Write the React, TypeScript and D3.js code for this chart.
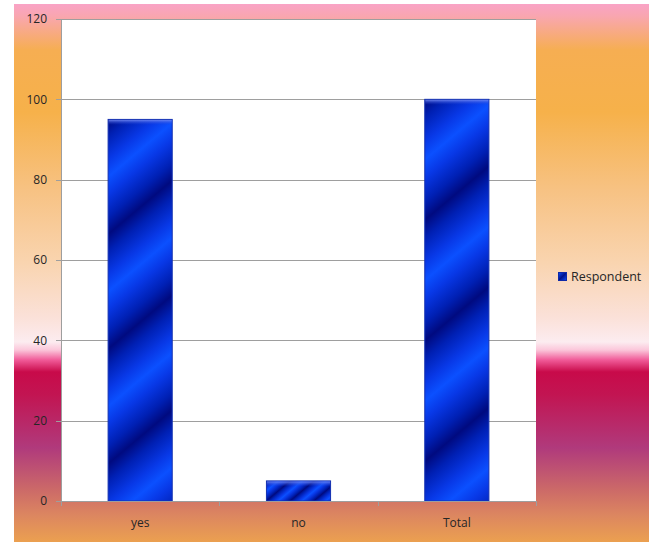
import React from "react";
import * as d3 from "d3";

const categories = ["yes", "no", "Total"];
const respondent = [95, 5, 100];
const yTicks = [0, 20, 40, 60, 80, 100, 120];
const seriesName = "Respondent";

const W = 649;
const H = 542;
const plot = { left: 61, right: 536, top: 19, bottom: 501 };

// vertical backdrop colours, keyed by y position in px
const backdropStops: [number, string][] = [
  [4, "#F9A3C6"],
  [16, "#F9A6B0"],
  [50, "#F6AE52"],
  [112, "#F6B14A"],
  [190, "#F7C283"],
  [262, "#F9D4AF"],
  [318, "#FBE1D9"],
  [342, "#FCECF0"],
  [350, "#FBC6DA"],
  [360, "#F05A98"],
  [372, "#C80A4A"],
  [395, "#C21552"],
  [448, "#B03A7C"],
  [490, "#CC6A68"],
  [515, "#DC8660"],
  [542, "#EBA050"],
];

const barStops: [number, string][] = [
  [0, "#000A80"],
  [0.15, "#0020B4"],
  [0.35, "#0838E6"],
  [0.5, "#0B50FF"],
  [0.65, "#0838E6"],
  [0.85, "#0020B4"],
  [1, "#000A80"],
];

export default function App() {
  const x = d3
    .scaleBand<string>()
    .domain(categories)
    .range([plot.left, plot.right])
    .paddingInner(0.595)
    .paddingOuter(0.2975);
  const y = d3.scaleLinear().domain([0, 120]).range([plot.bottom, plot.top]);

  const bgTop = 4;
  const bgBottom = H;
  const bands = x.step();
  const boundaries = d3.range(categories.length + 1).map((i) => plot.left + i * bands);

  const font = "'Open Sans', 'Liberation Sans', sans-serif";
  const textColor = "#262626";

  const angle = (40 * Math.PI) / 180;
  const dir = [Math.sin(angle), Math.cos(angle)];

  return (
    <svg
      width={W}
      height={H}
      style={{ position: "absolute", left: 0, top: 0 }}
      fontFamily={font}
    >
      <defs>
        <linearGradient id="backdrop" gradientUnits="userSpaceOnUse" x1={0} y1={bgTop} x2={0} y2={bgBottom}>
          {backdropStops.map(([p, c], i) => (
            <stop key={i} offset={(p - bgTop) / (bgBottom - bgTop)} stopColor={c} />
          ))}
        </linearGradient>
        {categories.map((c, i) => {
          const bx = x(c)!;
          const by = y(respondent[i]);
          const bw = x.bandwidth();
          const bh = plot.bottom - by;
          const period = Math.hypot(bw, bh) / 4.4;
          return (
            <linearGradient
              key={c}
              id={`bar-${i}`}
              gradientUnits="userSpaceOnUse"
              spreadMethod="repeat"
              x1={bx}
              y1={by}
              x2={bx + dir[0] * period}
              y2={by + dir[1] * period}
            >
              {barStops.map(([o, col], k) => (
                <stop key={k} offset={o} stopColor={col} />
              ))}
            </linearGradient>
          );
        })}
        <linearGradient id="bevel-top" x1="0" y1="0" x2="0" y2="1">
          <stop offset="0" stopColor="#7088F4" stopOpacity={0.9} />
          <stop offset="1" stopColor="#2040D0" stopOpacity={0} />
        </linearGradient>
        <linearGradient id="legend-swatch" x1="0" y1="0" x2="1" y2="1">
          <stop offset="0" stopColor="#0B50FF" />
          <stop offset="0.5" stopColor="#00128C" />
          <stop offset="1" stopColor="#0B50FF" />
        </linearGradient>
      </defs>

      {/* chart backdrop */}
      <rect x={14} y={bgTop} width={W - 14} height={bgBottom - bgTop} fill="url(#backdrop)" />

      {/* plot area */}
      <rect
        x={plot.left}
        y={plot.top}
        width={plot.right - plot.left}
        height={plot.bottom - plot.top}
        fill="#FFFFFF"
      />

      {/* gridlines */}
      {yTicks.map((t) => (
        <line
          key={t}
          x1={plot.left - 5}
          x2={plot.right}
          y1={Math.round(y(t)) + 0.5}
          y2={Math.round(y(t)) + 0.5}
          stroke="#9E9E9E"
          strokeWidth={1}
        />
      ))}

      {/* y axis */}
      <line x1={plot.left + 0.5} x2={plot.left + 0.5} y1={plot.top} y2={plot.bottom} stroke="#9E9E9E" />
      {yTicks.map((t) => (
        <text
          key={t}
          x={47}
          y={y(t)}
          dy="0.35em"
          textAnchor="end"
          fontSize={12}
          fill={textColor}
        >
          {t}
        </text>
      ))}

      {/* bars */}
      {categories.map((c, i) => {
        const bx = x(c)!;
        const by = y(respondent[i]);
        const bw = x.bandwidth();
        const bh = plot.bottom - by;
        return (
          <g key={c}>
            <rect x={bx} y={by} width={bw} height={bh} fill={`url(#bar-${i})`} stroke="#1430B0" strokeWidth={1} />
            <rect x={bx + 0.5} y={by + 0.5} width={bw - 1} height={Math.min(5, bh - 1)} fill="url(#bevel-top)" />
          </g>
        );
      })}

      {/* x axis */}
      <line x1={plot.left} x2={plot.right} y1={plot.bottom + 0.5} y2={plot.bottom + 0.5} stroke="#9E9E9E" />
      {boundaries.map((bx, i) => (
        <line
          key={i}
          x1={Math.round(bx) + 0.5}
          x2={Math.round(bx) + 0.5}
          y1={plot.bottom}
          y2={plot.bottom + 5}
          stroke="#9E9E9E"
        />
      ))}
      {categories.map((c) => (
        <text
          key={c}
          x={x(c)! + x.bandwidth() / 2}
          y={523}
          dy="0.35em"
          textAnchor="middle"
          fontSize={12}
          fill={textColor}
        >
          {c}
        </text>
      ))}

      {/* legend */}
      <rect x={558.5} y={272.5} width={8} height={8} fill="url(#legend-swatch)" stroke="#0E28A8" strokeWidth={1} />
      <text x={571} y={277} dy="0.35em" fontSize={12.5} fill={textColor}>
        {seriesName}
      </text>
    </svg>
  );
}
